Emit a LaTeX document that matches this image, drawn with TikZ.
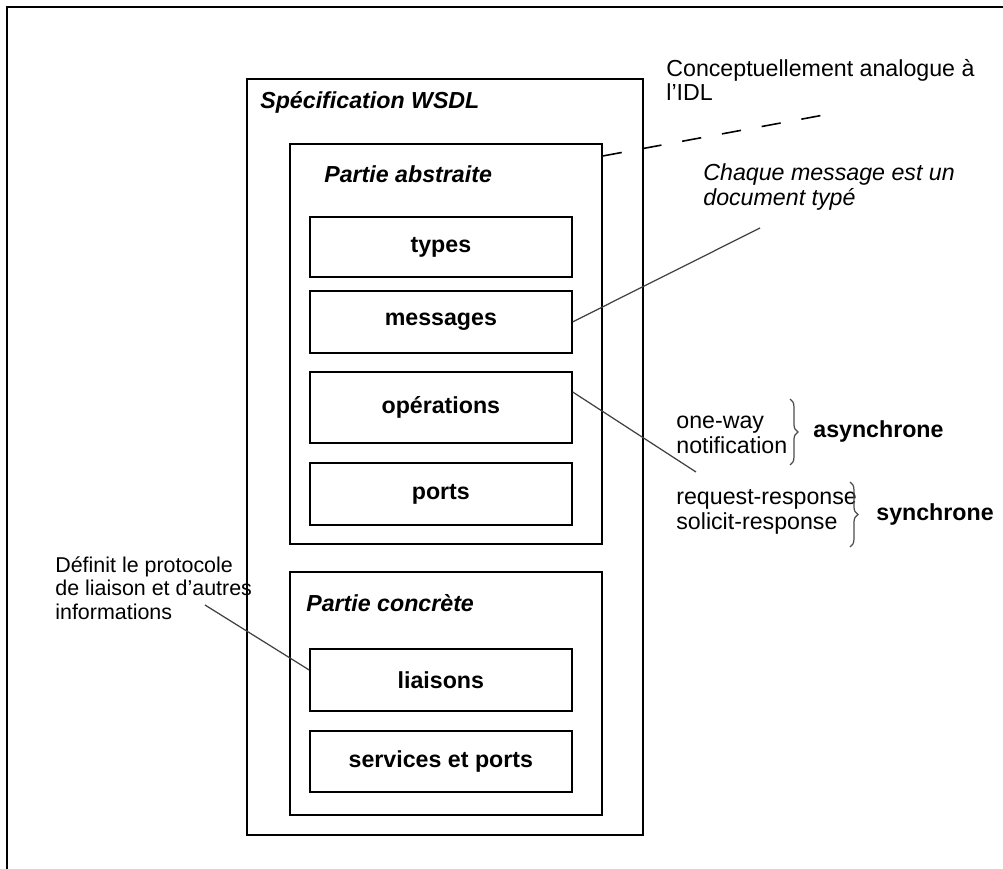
\documentclass[tikz,border=0pt]{standalone}
\usepackage{fontspec}
\setmainfont{Liberation Sans}
\usetikzlibrary{calc,decorations.pathreplacing}

\begin{document}
\begin{tikzpicture}[
    x=0.02cm, y=-0.02cm,
    font=\fontsize{13.2}{14}\selectfont,
    part/.style={rectangle, draw, line width=1pt, anchor=north west, inner sep=0pt},
    box/.style={part, minimum width=5.24cm, font=\fontsize{13.2}{14}\selectfont\bfseries},
    title/.style={anchor=west, inner sep=0pt, font=\fontsize{13.2}{14}\selectfont\bfseries\itshape},
    note/.style={anchor=west, inner sep=0pt, align=left},
    link/.style={draw=black!75, line width=0.7pt},
    brace/.style={draw=black!70, line width=0.7pt, decorate, decoration={brace, amplitude=4.5pt, aspect=0.5}}
]
    \useasboundingbox (0,0) rectangle (1003,868);
    \draw[line width=1.3pt] (7,7) rectangle (1020,890);

    \node[part, minimum width=7.92cm, minimum height=15.12cm] (spec) at (246,78) {};
    \node[title] (spectitle) at (260,102) {Spécification WSDL};
    \node[part, minimum width=6.24cm, minimum height=8cm] (abstr) at (289,143) {};
    \node[title] (abstrtitle) at (324,174) {Partie abstraite};
    \node[box, minimum height=1.2cm] (types) at (309,216) {types};
    \node[box, minimum height=1.24cm] (msg) at (309,290) {messages\\[2pt]};
    \node[box, minimum height=1.42cm] (oper) at (309,371) {opérations\\[6pt]};
    \node[box, minimum height=1.24cm] (ports) at (309,462) {ports};
    \node[part, minimum width=6.24cm, minimum height=4.86cm] (concr) at (289,571) {};
    \node[title] (concrtitle) at (306,603) {Partie concrète};
    \node[box, minimum height=1.24cm] (liais) at (309,648) {liaisons};
    \node[box, minimum height=1.22cm] (serv) at (309,730) {services et ports};

    \node[note] (idlnote) at (666,80) {Conceptuellement analogue à\\l'IDL};
    \node[note, font=\fontsize{13.2}{14}\selectfont\itshape] (msgnote) at (703,187) {Chaque message est un\\document typé};
    \node[note] (asyncnote) at (676,435) {one-way\\notification};
    \node[note] (syncnote) at (676,512) {request-response\\solicit-response};
    \node[note, font=\fontsize{12.2}{13.4}\selectfont] (bindnote) at (55,588) {Définit le protocole\\de liaison et d'autres\\informations};
    \node[title, font=\fontsize{13.2}{14}\selectfont\bfseries] (async) at (813,431) {asynchrone};
    \node[title, font=\fontsize{13.2}{14}\selectfont\bfseries] (sync) at (876,514) {synchrone};

    \coordinate (idltip) at (840,112);
    \coordinate (msgtip) at (760,228);
    \coordinate (opertip) at (696,472);
    \coordinate (bindtip) at (205,605);

    \draw[link, black, line width=0.9pt, dash pattern=on 11pt off 12pt] ($(abstr.north east)+(0,13)$) -- (idltip);
    \draw[link] (msg.east) -- (msgtip);
    \draw[link] ($(oper.north east)+(0,21)$) -- (opertip);
    \draw[link] ($(liais.west)+(0,-10)$) -- (bindtip);

    \draw[brace] (790,399) -- (790,465);
    \draw[brace] (850,482) -- (850,547);
\end{tikzpicture}
\end{document}
